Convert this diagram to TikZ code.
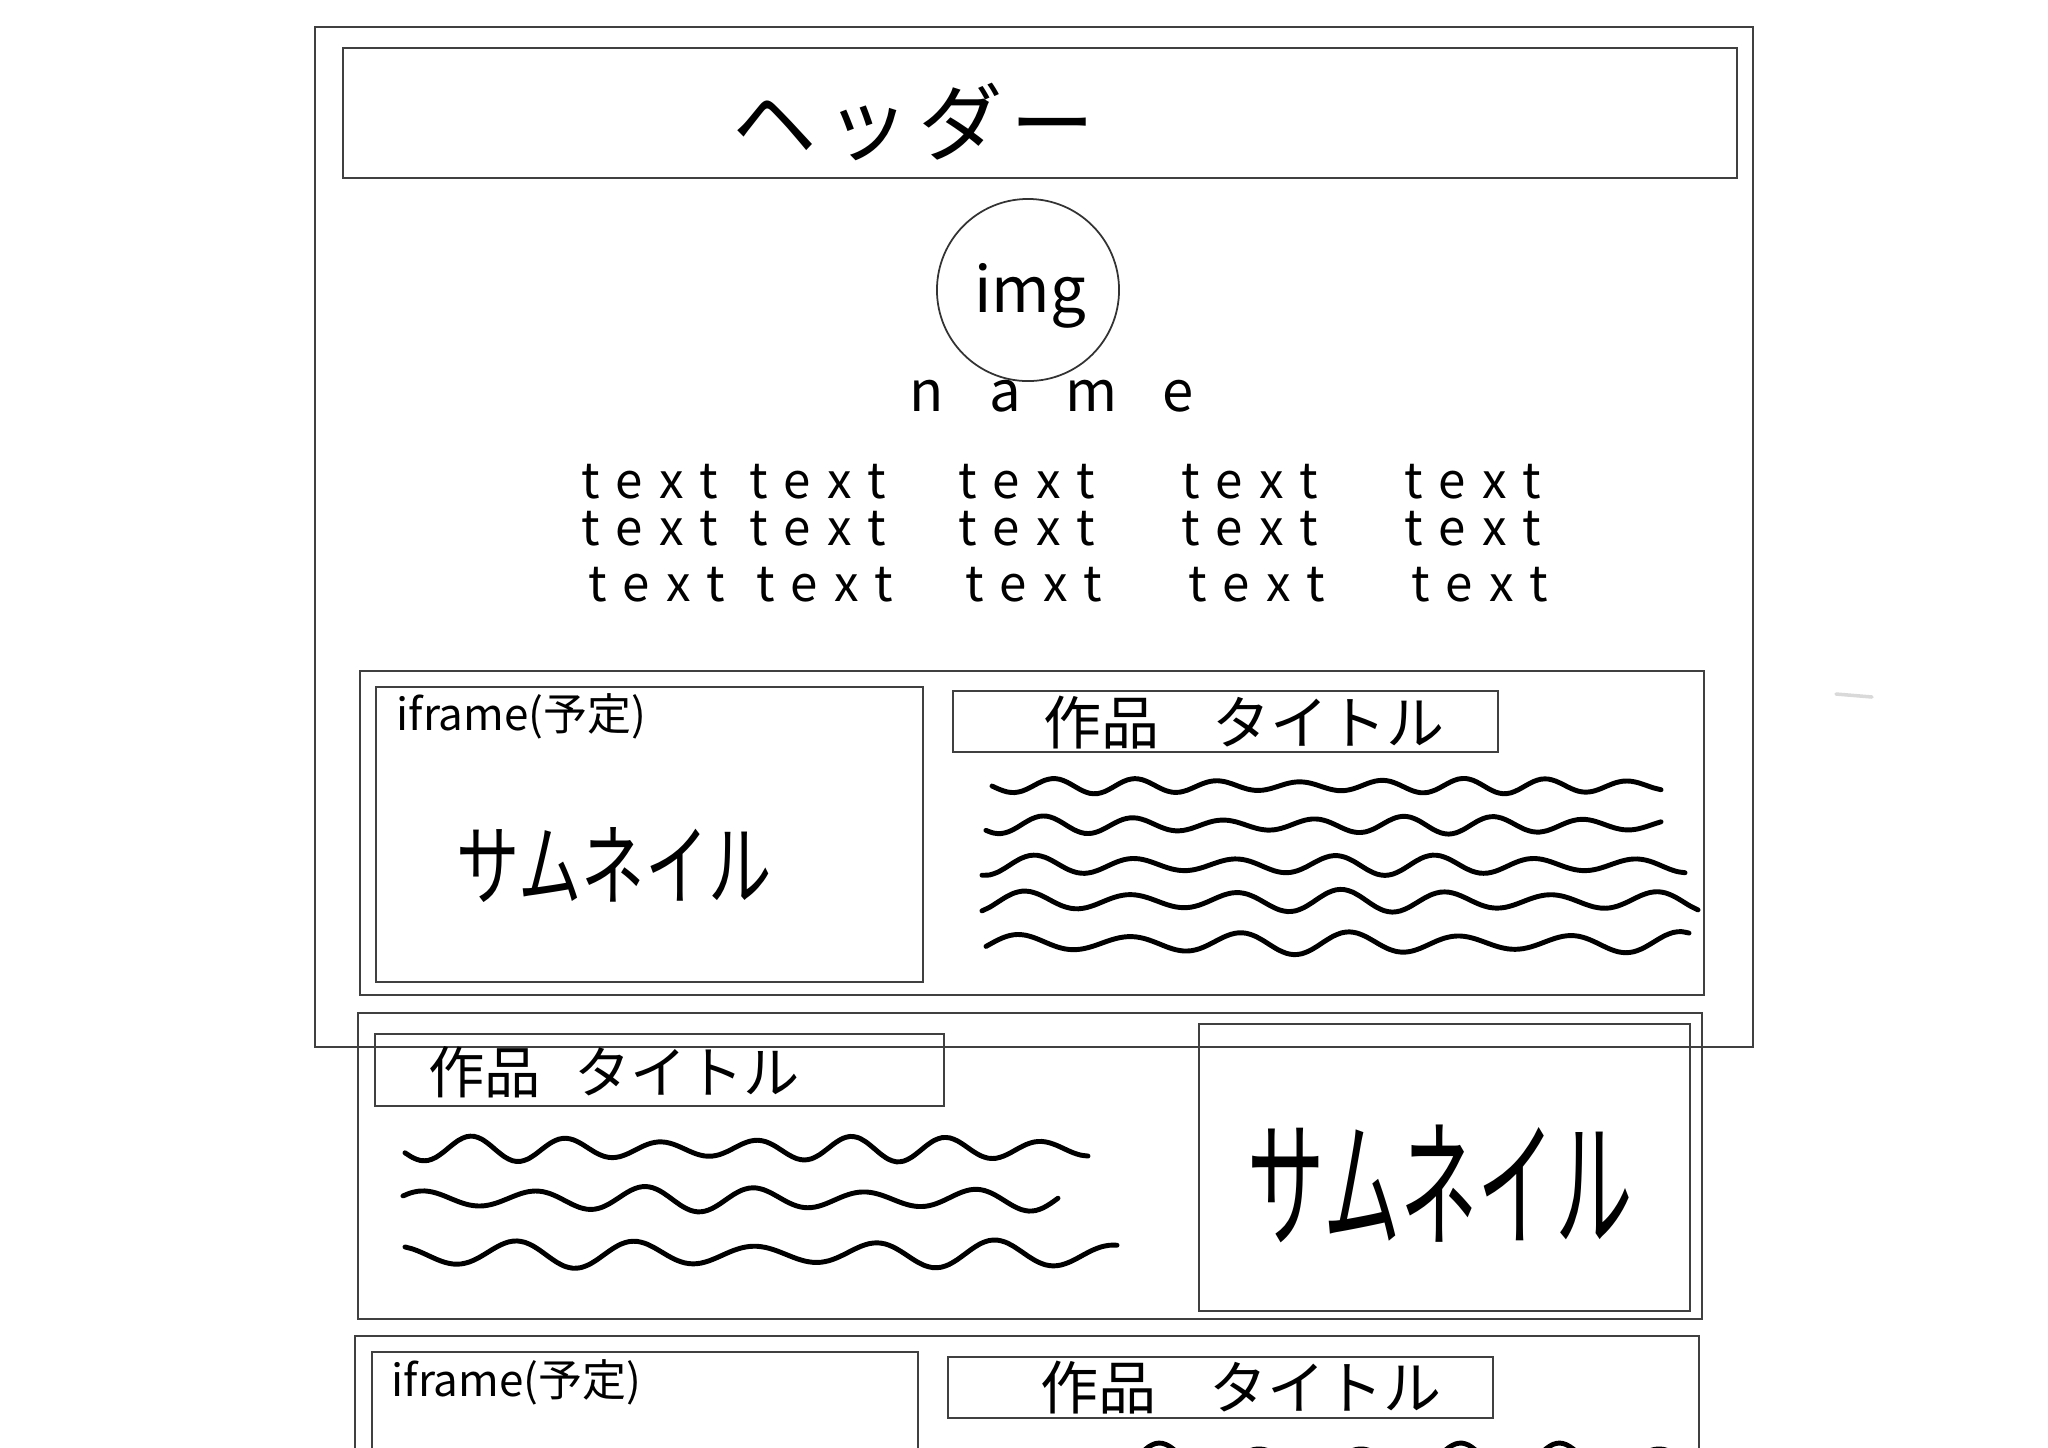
\documentclass[tikz,border=0pt]{standalone}
\usepackage{fontspec}
\newfontfamily\jp{Noto Sans CJK JP}
\usetikzlibrary{fit}
\newdimen\px \px=0.01cm
\newcommand\squiggle[6]{\draw[scribble] plot[smooth, domain=#1:#2, samples=90] (\x,{#3+#4*(1+0.3*sin((\x-#1)*0.9+#6))*sin((\x-#1)/#5*360+#6)});}
\newcommand\tword[1]{\makebox[0pt]{#1}}
\newcommand\textline{\tword{text}\hspace{168\px}\tword{text}\hspace{209\px}\tword{text}\hspace{223\px}\tword{text}\hspace{223\px}\tword{text}}
\begin{document}
\begin{tikzpicture}[x=0.01cm,y=-0.01cm,
  frame/.style={draw=black!75, line width=0.6pt, inner sep=0pt},
  scribble/.style={line width=1.4pt, line cap=round, line join=round},
  hand/.style={font=\jp, inner sep=0pt},
]
\useasboundingbox (0,0) rectangle (2048,1447);
\clip (0,0) rectangle (2048,1447);

% frames
\node (outer) [frame, fit={(315,27) (1753,1047)}] {};
\node (header) [frame, fit={(343,48) (1737,178)}] {};
\node (sec1) [frame, fit={(360,671) (1704,995)}] {};
\node (iframe1) [frame, fit={(376,687) (923,982)}] {};
\node (title1) [frame, fit={(953,691) (1498,752)}] {};
\node (sec2) [frame, fit={(358,1013) (1702,1319)}] {};
\node (title2) [frame, fit={(375,1034) (944,1106)}] {};
\node (thumb2) [frame, fit={(1199,1024) (1690,1311)}] {};
\node (sec3) [frame, fit={(355,1336) (1699,1480)}] {};
\node (iframe3) [frame, fit={(372,1352) (918,1480)}] {};
\node (title3) [frame, fit={(948,1357) (1493,1418)}] {};

% header
\node (htext) [hand, font=\jp\fontsize{24}{28}\selectfont\addfontfeature{LetterSpace=10}] at (914,122) {ヘッダー};

% avatar
\node (avatar) [draw=black!80, line width=0.5pt, circle, minimum size=1.82cm, inner sep=0pt] at (1028,290) {};
\node (img) [hand, font=\jp\fontsize{18}{22}\selectfont] at (1030,296) {img};
\node (name) [hand, font=\jp\fontsize{16}{18}\selectfont\addfontfeature{LetterSpace=80}] at (1052,396) {name};

% body text (three lines)
\node (body) [hand, align=center, font=\jp\fontsize{14}{13.4pt}\selectfont\addfontfeature{LetterSpace=34}] at (1061,533)
  {\textline\\ \textline\hspace*{20\px}\\[2.4pt] \hspace*{14\px}\textline};

% section 1
\node (lab1) [hand, anchor=west, font=\jp\fontsize{12.5}{15}\selectfont] at (396,716) {iframe(予定)};
\node (thumb1txt) [hand, font=\jp\fontsize{18}{22}\selectfont] at (614,865) {\scalebox{1}[1.4]{サムネイル}};
\node (t1txt) [hand, font=\jp\fontsize{16.5}{20}\selectfont] at (1244,723) {作品\hspace{0.9em}タイトル};
\squiggle{992}{1661}{786}{6}{82}{0}
\squiggle{986}{1661}{825}{7}{90}{40}
\squiggle{982}{1685}{865}{8}{100}{80}
\squiggle{982}{1698}{901}{9}{105}{120}
\squiggle{986}{1689}{943}{9}{110}{160}

% section 2
\node (t2txt) [hand, font=\jp\fontsize{16}{20}\selectfont] at (614,1072) {作品\hspace{0.6em}タイトル};
\node (thumb2txt) [hand, font=\jp\fontsize{22}{26}\selectfont] at (1440,1184) {\scalebox{1}[1.8]{サムネイル}};
\squiggle{405}{1088}{1149}{10}{95}{20}
\squiggle{403}{1058}{1199}{10}{110}{200}
\squiggle{405}{1117}{1254}{11}{120}{300}

% section 3
\node (lab3) [hand, anchor=west, font=\jp\fontsize{12.5}{15}\selectfont] at (391,1382) {iframe(予定)};
\node (t3txt) [hand, font=\jp\fontsize{16.5}{20}\selectfont] at (1241,1388) {作品\hspace{0.9em}タイトル};
\squiggle{1110}{1690}{1460}{14}{100}{90}

% stray stroke
\draw[gray!30, line width=1pt, line cap=round] (1836,694) -- (1872,697);
\end{tikzpicture}
\end{document}
